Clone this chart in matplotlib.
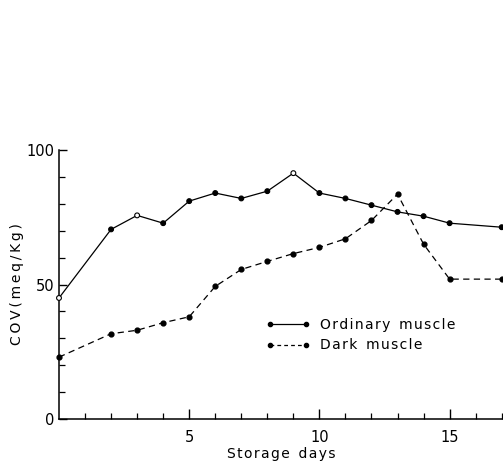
import matplotlib.pyplot as plt
from matplotlib.lines import Line2D

# data
days = [0, 2, 3, 4, 5, 6, 7, 8, 9, 10, 11, 12, 13, 14, 15, 17]
ordinary = [45, 70.5, 75.7, 72.8, 81, 84, 82, 84.7, 91.4, 84, 82, 79.5, 77, 75.4, 72.8, 71.3]
dark = [23, 31.7, 33, 35.8, 38, 49.3, 55.6, 58.6, 61.5, 63.8, 67, 73.8, 83.6, 65, 52, 52]
# some ordinary-muscle points are drawn as open circles
ordinary_open = [0, 3, 9]

x_major = [5, 10, 15]
y_major = [0, 50, 100]
labels = ['Ordinary muscle', 'Dark muscle']


def spaced(text, gap='\u200a'):
    # the typed labels of the original have wide letter spacing
    return '  '.join(gap.join(w) for w in text.split(' '))


plt.rcParams['font.family'] = 'DejaVu Sans'

fig = plt.figure(figsize=(5.03, 4.63), dpi=100)
ax = fig.add_axes([0.1173, 0.095, 0.8827, 0.581])

# lines
ax.plot(days, ordinary, color='black', lw=0.9)
ax.plot(days, dark, color='black', lw=0.9, dashes=(5, 3.5))

# markers
face = ['white' if d in ordinary_open else 'black' for d in days]
ax.scatter(days, ordinary, s=12, facecolors=face, edgecolors='black',
           linewidths=0.8, zorder=3, clip_on=False)
ax.scatter(days, dark, s=12, color='black', zorder=3, clip_on=False)

ax.set_xlim(0, 17.05)
ax.set_ylim(0, 100)

for s in ['top', 'right']:
    ax.spines[s].set_visible(False)
for s in ['left', 'bottom']:
    ax.spines[s].set_linewidth(1.1)

ax.set_xticks(x_major)
ax.set_xticks(range(1, 18), minor=True)
ax.set_yticks(y_major)
ax.set_yticks(range(10, 100, 10), minor=True)
ax.tick_params(which='major', direction='in', length=7, width=1, labelsize=10.5, pad=8)
ax.tick_params(which='minor', direction='in', length=4, width=0.9)
ax.tick_params(axis='y', which='major', length=6, pad=3)
ax.set_xticklabels(['5', '10', '15'])
ax.set_yticklabels(['0', '50', '100'])

ax.set_xlabel(spaced('Storage days'), fontsize=10, labelpad=1)
ax.set_ylabel(spaced('COV(meq/Kg)', '\u2009'), fontsize=10, labelpad=2)

handles = [
    Line2D([], [], color='black', lw=0.9, marker='o', ms=3),
    Line2D([], [], color='black', lw=0.9, marker='o', ms=3, dashes=(3, 2.5)),
]
ax.legend(handles, [spaced(t) for t in labels],
          loc='upper left', bbox_to_anchor=(0.465, 0.375), frameon=False,
          numpoints=2, handlelength=3.2, handletextpad=0.75, labelspacing=0.45,
          fontsize=10, borderpad=0, borderaxespad=0)

fig.savefig('out.png', dpi=100)
